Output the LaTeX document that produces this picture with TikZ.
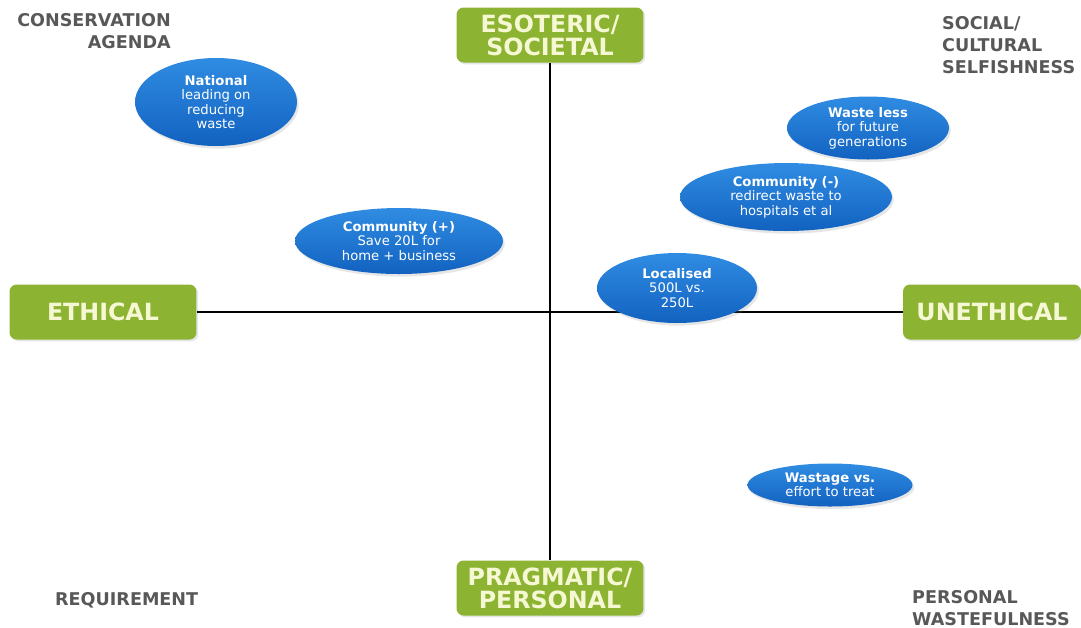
\documentclass[tikz,border=0pt]{standalone}
\usepackage{fontspec}
\setmainfont{DejaVu Sans}
\usetikzlibrary{shapes.geometric, shadows}
\definecolor{polegreen}{RGB}{140,179,50}
\definecolor{polecream}{RGB}{246,248,212}
\definecolor{bubbletop}{RGB}{48,140,226}
\definecolor{bubblebot}{RGB}{18,98,192}
\definecolor{cornergray}{RGB}{88,88,88}

\begin{document}
\begin{tikzpicture}[x=0.02cm, y=-0.02cm,
  pole/.style={rounded corners=4pt, fill=polegreen, text=polecream, align=center,
    font=\fontsize{13.5}{13.2}\selectfont\bfseries, inner sep=0pt,
    minimum width=3.74cm, minimum height=1.1cm,
    drop shadow={opacity=0.2, shadow xshift=1pt, shadow yshift=-1pt}},
  bubble/.style={ellipse, top color=bubbletop, bottom color=bubblebot, text=white,
    align=center, inner sep=0pt, font=\fontsize{7.5}{8.2}\selectfont,
    drop shadow={opacity=0.2, shadow xshift=1pt, shadow yshift=-1.5pt}},
  corner/.style={text=cornergray, font=\fontsize{10}{12.5}\selectfont\bfseries}]

\useasboundingbox (0,0) rectangle (1081,627);

% the four poles
\node[pole] (esoteric) at (550,35) {ESOTERIC/\\SOCIETAL};
\node[pole] (pragmatic) at (550,588) {PRAGMATIC/\\PERSONAL};
\node[pole] (ethical) at (103,312) {ETHICAL};
\node[pole, minimum width=3.56cm] (unethical) at (992,312) {UNETHICAL};

\draw[black, line width=0.6pt] (esoteric) -- (pragmatic);
\draw[black, line width=0.6pt] (ethical) -- (unethical);

% corner labels
\node[corner, align=right, anchor=east] (conservation) at (177,31) {CONSERVATION\\AGENDA};
\node[corner, align=left, anchor=west] (selfishness) at (936,45) {SOCIAL/\\CULTURAL\\SELFISHNESS};
\node[corner, anchor=west] (requirement) at (49,600) {REQUIREMENT};
\node[corner, align=left, anchor=west] (wastefulness) at (906,608) {PERSONAL\\WASTEFULNESS};

% positions on the map
\node[bubble, minimum width=3.24cm, minimum height=1.76cm] (national) at (216,102)
  {\textbf{National}\\leading on\\reducing\\waste};
\node[bubble, minimum width=4.16cm, minimum height=1.32cm] (commplus) at (399,241)
  {\textbf{Community (+)}\\Save 20L for\\home + business};
\node[bubble, minimum width=3.2cm, minimum height=1.4cm] (localised) at (677,288)
  {\textbf{Localised}\\500L vs.\\250L};
\node[bubble, minimum width=4.24cm, minimum height=1.36cm] (commminus) at (786,197)
  {\textbf{Community (-)}\\redirect waste to\\hospitals et al};
\node[bubble, minimum width=3.24cm, minimum height=1.26cm] (wasteless) at (868,128)
  {\textbf{Waste less}\\for future\\generations};
\node[bubble, minimum width=3.3cm, minimum height=0.86cm] (wastage) at (830,485)
  {\textbf{Wastage vs.}\\effort to treat};

\end{tikzpicture}
\end{document}
